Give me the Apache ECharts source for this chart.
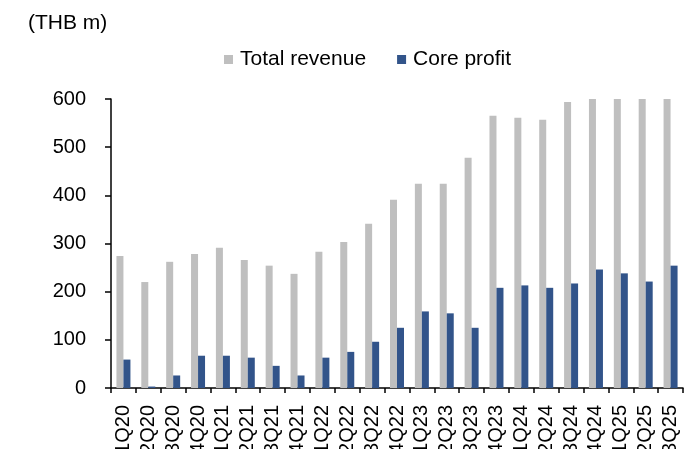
<!DOCTYPE html>
<html>
<head>
<meta charset="utf-8">
<script src="https://cdn.jsdelivr.net/npm/echarts@6/dist/echarts.min.js"></script>
<style>
html,body{margin:0;padding:0;background:#fff;}
#chart{width:694px;height:449px;}
</style>
</head>
<body>
<div id="chart"></div>
<script>
var categories = ['1Q20','2Q20','3Q20','4Q20','1Q21','2Q21','3Q21','4Q21','1Q22','2Q22','3Q22','4Q22','1Q23','2Q23','3Q23','4Q23','1Q24','2Q24','3Q24','4Q24','1Q25','2Q25','3Q25'];
var totalRevenue = [274,220,262,278,291,266,254,237,283,303,341,391,424,424,478,565,561,557,594,615,625,620,640];
var coreProfit = [59,3,26,67,67,63,46,26,63,75,96,125,159,155,125,208,213,208,217,246,238,221,254];
var yTicks = {min:0, max:600, interval:100};

var chart = echarts.init(document.getElementById('chart'), null, {renderer:'canvas'});
var font = 'Liberation Sans, Arial, sans-serif';
chart.setOption({
  animation:false,
  backgroundColor:'#fff',
  title:{
    text:'(THB m)', left:23, top:8,
    textStyle:{fontFamily:font, fontSize:21, fontWeight:'normal', color:'#000'}
  },
  legend:{
    left:219, top:44,
    itemWidth:9, itemHeight:9, itemGap:31,
    icon:'rect',
    textStyle:{fontFamily:font, fontSize:21, color:'#000', padding:[0,0,0,2]},
    data:['Total revenue','Core profit']
  },
  grid:{left:111, right:11, top:99, bottom:61, containLabel:false, outerBoundsMode:'none'},
  xAxis:{
    type:'category', data:categories, boundaryGap:true,
    axisLine:{lineStyle:{color:'#000', width:1.5}},
    axisTick:{show:true, length:5, alignWithLabel:false, lineStyle:{color:'#000', width:1.5}},
    axisLabel:{rotate:90, interval:0, margin:17, fontFamily:font, fontSize:20, color:'#000'}
  },
  yAxis:{
    type:'value', min:yTicks.min, max:yTicks.max, interval:yTicks.interval,
    splitLine:{show:false},
    axisLine:{show:true, lineStyle:{color:'#000', width:1.5}},
    axisTick:{show:true, length:6, lineStyle:{color:'#000', width:1.5}},
    axisLabel:{margin:25, fontFamily:font, fontSize:20, color:'#000'}
  },
  series:[
    {name:'Total revenue', type:'bar', data:totalRevenue, barWidth:7, barGap:'0%', itemStyle:{color:'#BFBFBF'}, clip:true},
    {name:'Core profit', type:'bar', data:coreProfit, barWidth:7, barGap:'0%', itemStyle:{color:'#32548A'}, clip:true}
  ]
});
</script>
</body>
</html>
